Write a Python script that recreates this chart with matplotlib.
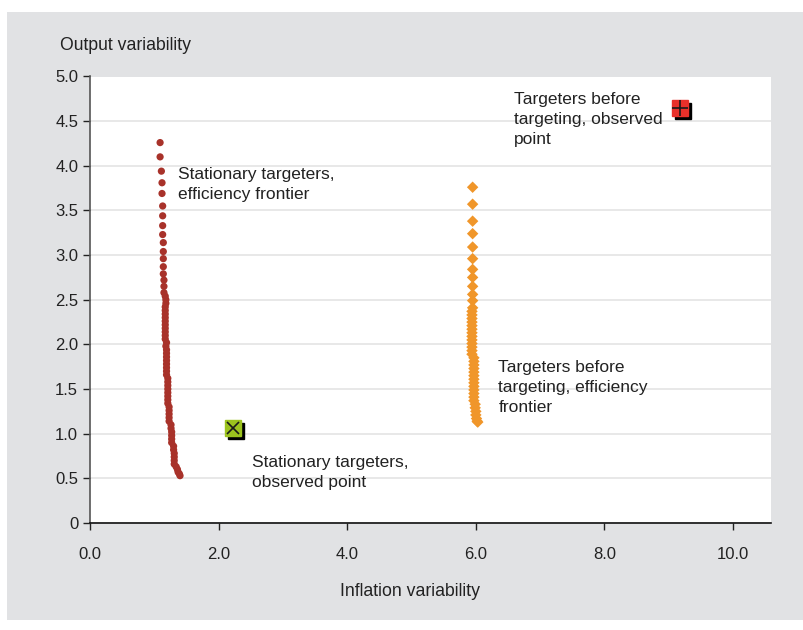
import numpy as np
import matplotlib.pyplot as plt
import matplotlib.patches as mpatches
from matplotlib.transforms import offset_copy

plt.rcParams['font.family'] = ['Liberation Sans', 'DejaVu Sans']

# Stationary targeters, efficiency frontier
stat_x = [1.09, 1.09, 1.11, 1.12, 1.12, 1.13, 1.13, 1.13, 1.13, 1.14, 1.14, 1.14, 1.14, 1.14, 1.15, 1.15, 1.15,
          1.17, 1.18, 1.18, 1.17, 1.17, 1.17, 1.17, 1.17, 1.17, 1.17, 1.17, 1.17, 1.17,
          1.19, 1.18, 1.19, 1.19, 1.19, 1.19, 1.19, 1.19, 1.19, 1.19,
          1.21, 1.21, 1.21, 1.21, 1.21, 1.21, 1.21, 1.21,
          1.23, 1.23, 1.23, 1.23, 1.23,
          1.26, 1.26, 1.27, 1.27, 1.27, 1.27,
          1.30, 1.30, 1.31, 1.31, 1.31, 1.31,
          1.34, 1.36, 1.37, 1.39, 1.40]
stat_y = [4.26, 4.10, 3.94, 3.81, 3.69, 3.55, 3.44, 3.33, 3.23, 3.14, 3.04, 2.96, 2.87, 2.79, 2.72, 2.65, 2.58,
          2.54, 2.50, 2.46, 2.42, 2.38, 2.34, 2.30, 2.26, 2.22, 2.18, 2.14, 2.10, 2.06,
          2.02, 1.98, 1.94, 1.90, 1.86, 1.82, 1.78, 1.74, 1.70, 1.66,
          1.62, 1.58, 1.54, 1.50, 1.46, 1.42, 1.38, 1.34,
          1.30, 1.26, 1.22, 1.18, 1.14,
          1.10, 1.06, 1.02, 0.98, 0.94, 0.90,
          0.86, 0.82, 0.78, 0.74, 0.70, 0.66,
          0.63, 0.60, 0.57, 0.55, 0.53]

# Targeters before targeting, efficiency frontier
pre_x = [5.95, 5.95, 5.95, 5.95, 5.95, 5.95, 5.95, 5.95, 5.95, 5.95, 5.95, 5.95,
         5.94, 5.94, 5.94, 5.94, 5.94, 5.94, 5.94, 5.94, 5.94, 5.94, 5.94, 5.94, 5.94,
         5.97, 5.97, 5.97, 5.97, 5.97, 5.97, 5.97, 5.97, 5.97, 5.97, 5.97, 5.97, 5.97,
         5.99, 5.99, 6.00, 6.00, 6.01, 6.02, 6.03]
pre_y = [3.76, 3.57, 3.38, 3.24, 3.09, 2.96, 2.84, 2.75, 2.65, 2.56, 2.49, 2.41,
         2.37, 2.33, 2.29, 2.25, 2.21, 2.17, 2.13, 2.09, 2.05, 2.01, 1.97, 1.93, 1.89,
         1.85, 1.81, 1.77, 1.73, 1.69, 1.65, 1.61, 1.57, 1.53, 1.49, 1.45, 1.41, 1.37,
         1.33, 1.29, 1.25, 1.21, 1.17, 1.14, 1.13]

# observed points
stat_obs = (2.22, 1.06)
pre_obs = (9.18, 4.65)

yticks = [0, 0.5, 1.0, 1.5, 2.0, 2.5, 3.0, 3.5, 4.0, 4.5, 5.0]
ytick_labels = ['0', '0.5', '1.0', '1.5', '2.0', '2.5', '3.0', '3.5', '4.0', '4.5', '5.0']
xticks = [0, 2, 4, 6, 8, 10]
xtick_labels = ['0.0', '2.0', '4.0', '6.0', '8.0', '10.0']

fig = plt.figure(figsize=(8.04, 6.3), dpi=100)
fig.patches.append(mpatches.Rectangle((7 / 804, 10 / 630), 1 - 7 / 804, 608 / 630,
                                      transform=fig.transFigure, facecolor='#e1e2e4',
                                      edgecolor='none', zorder=-1))
ax = fig.add_axes([90 / 804, 107 / 630, 681 / 804, 446.5 / 630])
ax.set_facecolor('white')

ax.scatter(stat_x, stat_y, s=27, color='#a8322a', edgecolor='none', zorder=3)
ax.scatter(pre_x, pre_y, s=34, marker='D', color='#f0962a', edgecolor='none', zorder=3)

# observed points with drop shadow
shadow = offset_copy(ax.transData, fig=fig, x=3, y=-3, units='dots')
ax.plot(*stat_obs, marker='s', ms=11, color='black', transform=shadow, zorder=4)
ax.plot(*stat_obs, marker='s', ms=11, color='#9cc31e', mec='#9cc31e', zorder=5)
ax.plot(*stat_obs, marker='x', ms=9, color='#1a1a1a', mew=1.2, zorder=6)
ax.plot(*pre_obs, marker='s', ms=11, color='black', transform=shadow, zorder=4)
ax.plot(*pre_obs, marker='s', ms=11, color='#e8302a', mec='#e8302a', zorder=5)
ax.plot(*pre_obs, marker='+', ms=11, color='#1a1a1a', mew=1.2, zorder=6)

ax.set_xlim(0, 10.59)
ax.set_ylim(0, 5.0)
ax.set_yticks(yticks)
ax.set_yticklabels(ytick_labels)
ax.set_xticks(xticks)
ax.set_xticklabels(xtick_labels)
ax.tick_params(axis='both', labelsize=12, colors='#222222', length=5, width=1)
ax.tick_params(axis='x', pad=12)
ax.yaxis.grid(True, color='#e4e4e4', lw=1.2)
ax.set_axisbelow(True)
for s in ['top', 'right']:
    ax.spines[s].set_visible(False)
ax.spines['left'].set_color('#555555')
ax.spines['bottom'].set_color('#111111')
ax.spines['left'].set_linewidth(1.2)
ax.spines['bottom'].set_linewidth(1.2)

txt = dict(fontsize=12.5, color='#222222', va='top', ha='left', linespacing=1.42)
ax.text(1.37, 3.985, 'Stationary targeters,\nefficiency frontier', **txt)
ax.text(2.52, 0.76, 'Stationary targeters,\nobserved point', **txt)
ax.text(6.35, 1.825, 'Targeters before\ntargeting, efficiency\nfrontier', **txt)
ax.text(6.59, 4.825, 'Targeters before\ntargeting, observed\npoint', **txt)

fig.text(60 / 804, 1 - 46 / 630, 'Output variability', fontsize=12.7, color='#222222',
         ha='left', va='center')
fig.text(410 / 804, 1 - 592 / 630, 'Inflation variability', fontsize=12.7, color='#222222',
         ha='center', va='center')

fig.savefig('out.png', dpi=100)
